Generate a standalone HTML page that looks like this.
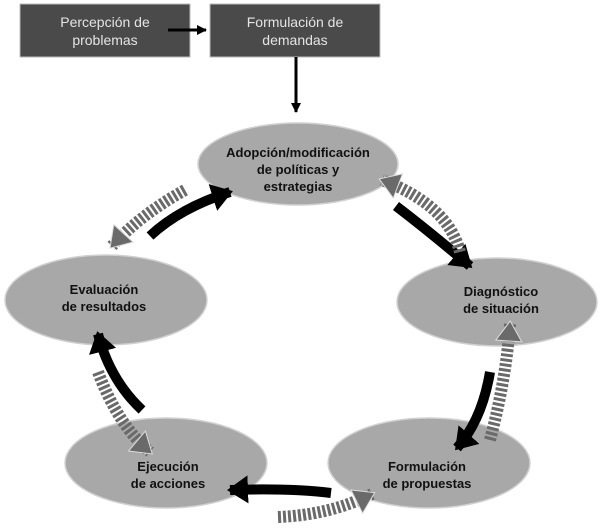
<!DOCTYPE html>
<html><head><meta charset="utf-8"><style>
body{margin:0;background:#fff;width:600px;height:531px;overflow:hidden}
svg{display:block}
text{font-family:"Liberation Sans",Arial,sans-serif}
</style></head><body>
<svg width="600" height="531" viewBox="0 0 600 531">
<defs>
<marker id="hb" markerUnits="userSpaceOnUse" markerWidth="34" markerHeight="34" refX="18" refY="14" orient="auto">
<path d="M0,0 L21,14 L0,28 Z" fill="#000"/></marker>
<marker id="hg" markerUnits="userSpaceOnUse" markerWidth="34" markerHeight="34" refX="18" refY="14" orient="auto">
<path d="M1,1 L21,14 L1,27 Z" fill="#6a6a6a" stroke="#ddd" stroke-width="1"/></marker>
<marker id="ha" markerUnits="userSpaceOnUse" markerWidth="12" markerHeight="12" refX="9" refY="5" orient="auto">
<path d="M0,0 L10,5 L0,10 Z" fill="#000"/></marker>
</defs>
<rect x="20" y="4" width="170" height="53" fill="#4a4a4a" stroke="#bbb" stroke-width="1"/>
<rect x="210" y="4" width="170" height="53" fill="#4a4a4a" stroke="#bbb" stroke-width="1"/>
<g fill="#e4e4e4" font-size="14" text-anchor="middle">
<text x="105" y="27">Percepción de</text><text x="105" y="45">problemas</text>
<text x="295" y="27">Formulación de</text><text x="295" y="45">demandas</text>
</g>
<line x1="168" y1="30" x2="206" y2="30" stroke="#000" stroke-width="3" marker-end="url(#ha)"/>
<line x1="296" y1="57" x2="296" y2="112" stroke="#000" stroke-width="3" marker-end="url(#ha)"/>
<g fill="#a8a8a8" stroke="#d0d0d0" stroke-width="1.5">
<ellipse cx="298" cy="164" rx="100" ry="41"/>
<ellipse cx="106" cy="300" rx="101" ry="45"/>
<ellipse cx="497" cy="302" rx="100" ry="44"/>
<ellipse cx="166" cy="463" rx="101" ry="45"/>
<ellipse cx="429" cy="463" rx="101" ry="45"/>
</g>
<g fill="#111" font-size="13" font-weight="bold" text-anchor="middle">
<text x="298" y="157">Adopción/modificación</text><text x="298" y="174">de políticas y</text><text x="298" y="191">estrategias</text>
<text x="104" y="294">Evaluación</text><text x="104" y="311">de resultados</text>
<text x="501" y="296">Diagnóstico</text><text x="501" y="313">de situación</text>
<text x="168" y="471">Ejecución</text><text x="168" y="488">de acciones</text>
<text x="427" y="471">Formulación</text><text x="427" y="488">de propuestas</text>
</g>
<g fill="none" stroke="#000" stroke-width="10">
<path d="M150,236 Q180,208 230,192" marker-end="url(#hb)"/>
<path d="M396,206 Q430,232 470,266" marker-end="url(#hb)"/>
<path d="M490,372 Q482,420 457,448" marker-end="url(#hb)"/>
<path d="M331,493 Q290,488 230,490" marker-end="url(#hb)"/>
<path d="M142,410 Q110,380 98,334" marker-end="url(#hb)"/>
</g>
<g fill="none" stroke="#6a6a6a" stroke-width="12" stroke-dasharray="3 2">
<path d="M185,190 Q140,215 112,246" marker-end="url(#hg)"/>
<path d="M460,252 Q448,205 382,180" marker-end="url(#hg)"/>
<path d="M490,440 Q506,380 510,324" marker-end="url(#hg)"/>
<path d="M278,517 Q330,515 372,494" marker-end="url(#hg)"/>
<path d="M98,372 Q118,425 150,452" marker-end="url(#hg)"/>
</g>
</svg>
</body></html>
